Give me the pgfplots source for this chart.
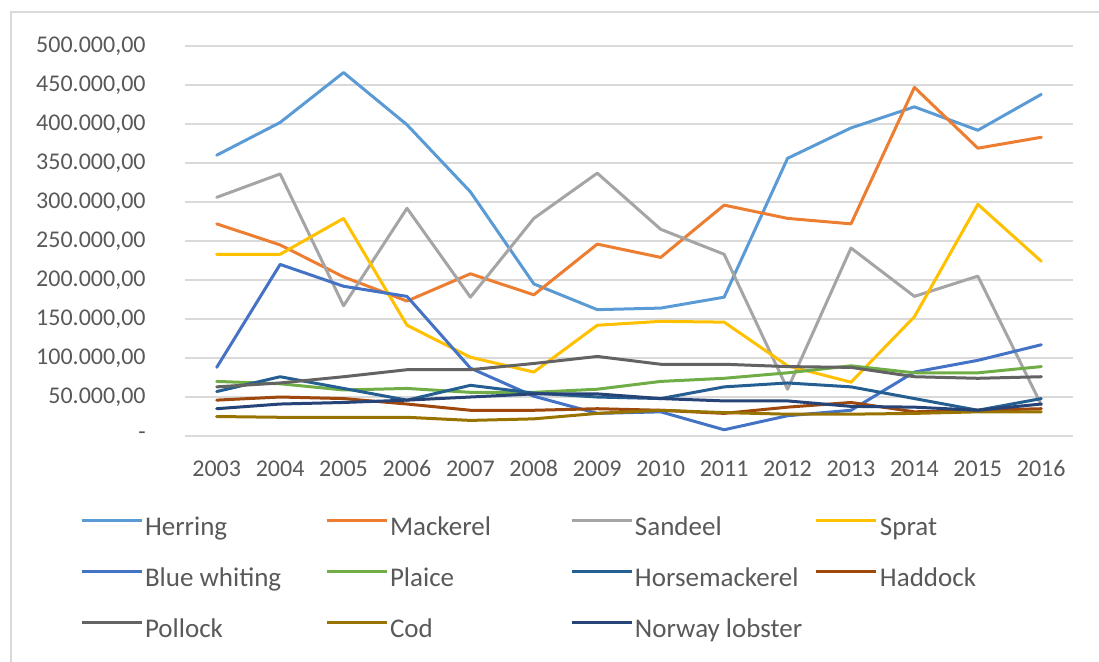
\documentclass[border=0pt]{standalone}
\usepackage{pgfplots}
\pgfplotsset{compat=1.18}
\usepackage{pgfplotstable}
\usepackage{fontspec}
\setmainfont{Carlito}
\definecolor{cHerring}{HTML}{5B9BD5}
\definecolor{cMackerel}{HTML}{ED7D31}
\definecolor{cSandeel}{HTML}{A5A5A5}
\definecolor{cSprat}{HTML}{FFC000}
\definecolor{cBlue}{HTML}{4472C4}
\definecolor{cPlaice}{HTML}{70AD47}
\definecolor{cHorse}{HTML}{255E91}
\definecolor{cHaddock}{HTML}{9E480E}
\definecolor{cPollock}{HTML}{636363}
\definecolor{cCod}{HTML}{997300}
\definecolor{cLobster}{HTML}{264478}
\definecolor{gridc}{HTML}{D9D9D9}
\definecolor{txt}{HTML}{595959}

% values in thousands
\pgfplotstableread{
year herring mackerel sandeel sprat bluewhiting plaice horsemackerel haddock pollock cod lobster
2003 360 272 306 233 88  70 57 46 63  25 35
2004 402 245 336 233 220 67 76 50 68  24 41
2005 466 204 167 279 192 59 61 48 76  24 43
2006 399 173 292 142 179 61 46 41 85  24 46
2007 313 208 178 101 87  56 65 33 85  20 50
2008 195 181 279 82  51  56 55 33 93  22 54
2009 162 246 337 142 29  60 50 35 102 29 54
2010 164 229 265 147 31  70 48 33 92  33 48
2011 178 296 233 146 8   74 63 29 92  30 45
2012 356 279 60  90  26  81 68 37 89  28 45
2013 395 272 241 69  33  90 63 43 88  28 38
2014 422 447 179 153 82  81 48 31 76  29 37
2015 392 369 205 297 97  81 33 33 74  31 33
2016 438 383 40  224 117 89 48 35 76  31 41
}\data

\newcommand{\legbox}[1]{\makebox[90pt][l]{#1}}

\begin{document}
\begin{tikzpicture}
\useasboundingbox (0pt,0pt) rectangle (549.5pt,-330.5pt);
\draw[gridc, line width=1.2pt] (5.5pt,-340pt) -- (5.5pt,-6pt) -- (560pt,-6pt);
\begin{axis}[
  at={(92.5pt,-218pt)}, anchor=south west,
  scale only axis, width=444pt, height=195pt,
  xmin=2002.5, xmax=2016.5, ymin=0, ymax=500,
  axis line style={draw=none},
  ymajorgrids, grid style={gridc, line width=0.75pt},
  major tick length=0pt,
  xtick={2003,...,2016},
  xticklabels={2003,2004,2005,2006,2007,2008,2009,2010,2011,2012,2013,2014,2015,2016},
  ytick={0,50,...,500},
  yticklabels={{-},{50.000,00},{100.000,00},{150.000,00},{200.000,00},{250.000,00},{300.000,00},{350.000,00},{400.000,00},{450.000,00},{500.000,00}},
  tick label style={font=\fontsize{12pt}{14pt}\selectfont, text=txt, inner sep=0pt},
  xticklabel style={anchor=base, yshift=-20pt},
  yticklabel style={anchor=east, xshift=-19.5pt},
  every axis plot/.append style={line width=1.5pt, line join=round, line cap=round},
  legend columns=4,
  legend cell align=left,
  legend image code/.code={\draw[#1, line cap=butt] (0pt,4.3pt) -- (30pt,4.3pt);},
  legend style={draw=none, fill=none, inner sep=0pt, outer sep=0pt,
    at={(-0.11824,-0.2046)}, anchor=north west,
    font=\fontsize{13.5pt}{16pt}\selectfont, text=txt,
    nodes={inner sep=0pt, text height=10pt, text depth=3pt},
    row sep=12.5pt,
    /tikz/every odd column/.append style={column sep=1pt},
    /tikz/every even column/.append style={column sep=0pt}},
]
\addplot[cHerring] table[x=year,y=herring]{\data};
\addlegendentry{\legbox{Herring}}
\addplot[cMackerel] table[x=year,y=mackerel]{\data};
\addlegendentry{\legbox{Mackerel}}
\addplot[cSandeel] table[x=year,y=sandeel]{\data};
\addlegendentry{\legbox{Sandeel}}
\addplot[cSprat] table[x=year,y=sprat]{\data};
\addlegendentry{Sprat}
\addplot[cBlue] table[x=year,y=bluewhiting]{\data};
\addlegendentry{\legbox{Blue whiting}}
\addplot[cPlaice] table[x=year,y=plaice]{\data};
\addlegendentry{\legbox{Plaice}}
\addplot[cHorse] table[x=year,y=horsemackerel]{\data};
\addlegendentry{\legbox{Horsemackerel}}
\addplot[cHaddock] table[x=year,y=haddock]{\data};
\addlegendentry{Haddock}
\addplot[cPollock] table[x=year,y=pollock]{\data};
\addlegendentry{\legbox{Pollock}}
\addplot[cCod] table[x=year,y=cod]{\data};
\addlegendentry{\legbox{Cod}}
\addplot[cLobster] table[x=year,y=lobster]{\data};
\addlegendentry{\legbox{Norway lobster}}
\end{axis}
\end{tikzpicture}
\end{document}
